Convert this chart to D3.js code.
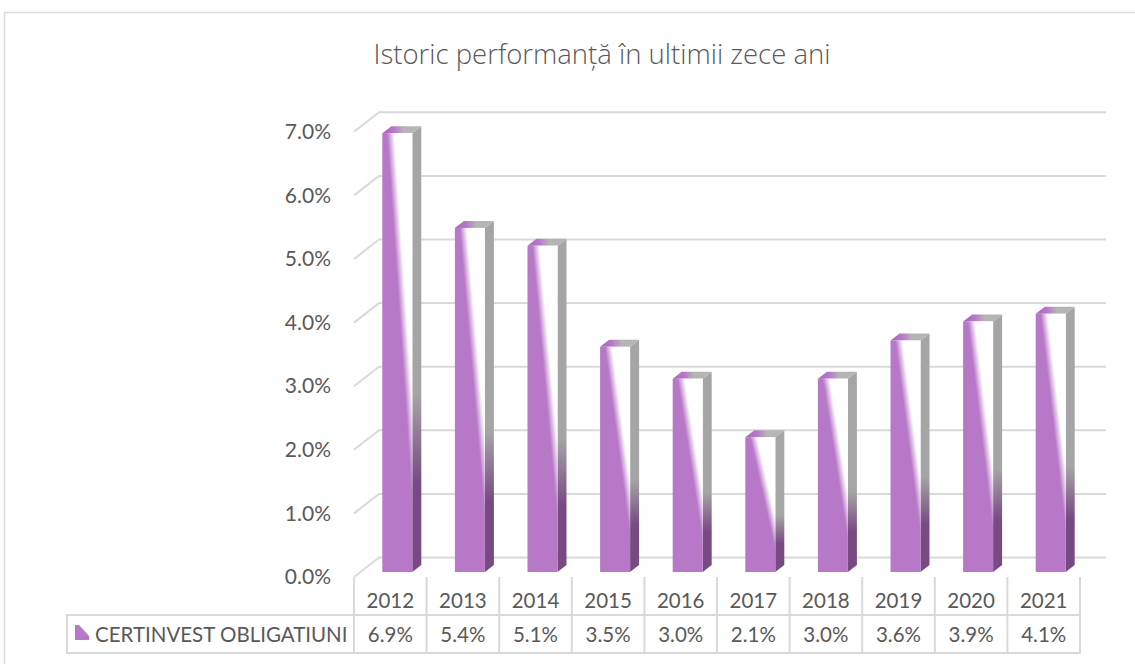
<!DOCTYPE html>
<html>
<head>
<meta charset="utf-8">
<script src="https://cdn.jsdelivr.net/npm/d3@7"></script>
<style>
  body { margin: 0; background: #fff; }
  text { font-family: Lato, "Open Sans", sans-serif; fill: #595959; }
</style>
</head>
<body>
<script>
  var years = ['2012', '2013', '2014', '2015', '2016', '2017', '2018', '2019', '2020', '2021'];
  var values = [6.9, 5.41, 5.13, 3.54, 3.04, 2.12, 3.04, 3.64, 3.94, 4.06];
  var yTicks = [0, 1, 2, 3, 4, 5, 6, 7];
  var seriesName = 'CERTINVEST OBLIGATIUNI';
  var title = 'Istoric performanță în ultimii zece ani';

  var width = 1135;
  var height = 664;
  var svg = d3.select('body').append('svg')
    .attr('width', width)
    .attr('height', height);

  // front plane of the 3d box, and how far back the walls go
  var left = 354, right = 1080, floorY = 577;
  var wallDx = 25, wallDy = -19.5;
  // bar sits a bit behind the front edge
  var barDx = 7, barDy = -5, depthDx = 9, depthDy = -7;

  var xScale = d3.scaleBand()
    .domain(years)
    .range([left, right]);
  var yScale = d3.scaleLinear()
    .domain([0, 7])
    .range([floorY, floorY - 7 * 63.6]);
  var fmt = function(d) { return d.toFixed(1) + '%'; };

  // gradients
  var defs = svg.append('defs');
  var gFront = defs.append('linearGradient').attr('id', 'gFront')
    .attr('x1', 0).attr('y1', 1).attr('x2', 1).attr('y2', 0);
  [[0, '#B878C8'], [0.58, '#B878C8'], [0.7, '#ffffff'], [1, '#ffffff']].forEach(function(s) {
    gFront.append('stop').attr('offset', s[0]).attr('stop-color', s[1]);
  });
  var gSide = defs.append('linearGradient').attr('id', 'gSide')
    .attr('x1', 0).attr('y1', 0).attr('x2', 0).attr('y2', 1);
  [[0, '#A5A5A5'], [0.6, '#A5A5A5'], [0.8, '#774A82'], [1, '#774A82']].forEach(function(s) {
    gSide.append('stop').attr('offset', s[0]).attr('stop-color', s[1]);
  });
  var gTop = defs.append('linearGradient').attr('id', 'gTop')
    .attr('x1', 0).attr('y1', 0).attr('x2', 1).attr('y2', 0);
  [[0, '#A865BA'], [0.3, '#B878C8'], [0.55, '#B5B5B5'], [1, '#B5B5B5']].forEach(function(s) {
    gTop.append('stop').attr('offset', s[0]).attr('stop-color', s[1]);
  });

  // outer border
  svg.append('rect')
    .attr('x', 4.5).attr('y', 12.5)
    .attr('width', 1140).attr('height', 700)
    .attr('fill', 'none')
    .attr('stroke', '#D9D9D9')
    .attr('stroke-width', 1.5);

  svg.append('text')
    .attr('x', 602).attr('y', 64)
    .attr('text-anchor', 'middle')
    .style('font-family', '"Open Sans", Lato, sans-serif')
    .style('font-size', '27.5px')
    .style('font-weight', 300)
    .text(title);

  // gridlines: side wall + back wall
  var grid = svg.append('g')
    .attr('stroke', '#D9D9D9')
    .attr('stroke-width', 2)
    .attr('fill', 'none');
  grid.selectAll('path')
    .data(yTicks)
    .enter().append('path')
    .attr('d', function(d) {
      var y = yScale(d);
      return 'M' + left + ',' + y + 'L' + (left + wallDx) + ',' + (y + wallDy) +
        'L' + (right + wallDx + 1) + ',' + (y + wallDy);
    });

  // y axis labels
  var yAxis = d3.axisLeft(yScale)
    .tickValues(yTicks)
    .tickSize(0)
    .tickPadding(23)
    .tickFormat(fmt);
  var yg = svg.append('g')
    .attr('transform', 'translate(' + left + ',0)')
    .call(yAxis);
  yg.select('.domain').remove();
  yg.selectAll('text')
    .style('font-size', '21px')
    .attr('fill', '#595959');

  // bars
  var data = years.map(function(y, i) { return {year: y, value: values[i]}; });
  var barW = 30;
  var bars = svg.selectAll('g.bar')
    .data(data)
    .enter().append('g')
    .attr('class', 'bar');

  function geo(d) {
    var x0 = xScale(d.year) + (xScale.bandwidth() - barW) / 2 + barDx;
    return {x0: x0, x1: x0 + barW, yt: yScale(d.value) + barDy, yb: yScale(0) + barDy};
  }

  bars.append('path')
    .attr('fill', 'url(#gSide)')
    .attr('d', function(d) {
      var g = geo(d);
      return 'M' + g.x1 + ',' + g.yt + 'L' + (g.x1 + depthDx) + ',' + (g.yt + depthDy) +
        'L' + (g.x1 + depthDx) + ',' + (g.yb + depthDy) + 'L' + g.x1 + ',' + g.yb + 'Z';
    });
  bars.append('path')
    .attr('fill', 'url(#gTop)')
    .attr('d', function(d) {
      var g = geo(d);
      return 'M' + g.x0 + ',' + g.yt + 'L' + (g.x0 + depthDx) + ',' + (g.yt + depthDy) +
        'L' + (g.x1 + depthDx) + ',' + (g.yt + depthDy) + 'L' + g.x1 + ',' + g.yt + 'Z';
    });
  bars.append('rect')
    .attr('fill', 'url(#gFront)')
    .attr('x', function(d) { return geo(d).x0; })
    .attr('y', function(d) { return geo(d).yt; })
    .attr('width', barW)
    .attr('height', function(d) { var g = geo(d); return g.yb - g.yt; });

  // data table
  var rowTop = 615, rowBot = 653, tableLeft = 67;
  var table = svg.append('g')
    .attr('stroke', '#D9D9D9')
    .attr('stroke-width', 2)
    .attr('fill', 'none');
  table.selectAll('line.v')
    .data(years.concat(['end']))
    .enter().append('line')
    .attr('x1', function(d) { return d === 'end' ? right : xScale(d); })
    .attr('x2', function(d) { return d === 'end' ? right : xScale(d); })
    .attr('y1', floorY)
    .attr('y2', rowBot);
  table.append('rect')
    .attr('x', tableLeft).attr('y', rowTop)
    .attr('width', right - tableLeft).attr('height', rowBot - rowTop);

  svg.selectAll('text.year')
    .data(years)
    .enter().append('text')
    .attr('class', 'year')
    .attr('x', function(d) { return xScale(d) + xScale.bandwidth() / 2; })
    .attr('y', 608)
    .attr('text-anchor', 'middle')
    .style('font-size', '20.5px')
    .text(function(d) { return d; });

  svg.selectAll('text.val')
    .data(data)
    .enter().append('text')
    .attr('class', 'val')
    .attr('x', function(d) { return xScale(d.year) + xScale.bandwidth() / 2; })
    .attr('y', 642)
    .attr('text-anchor', 'middle')
    .style('font-size', '20.5px')
    .text(function(d) { return fmt(d.value); });

  // legend key
  svg.append('path')
    .attr('fill', '#B878C8')
    .attr('d', 'M75,625L79,625L89,636L89,640L75,640Z');
  svg.append('text')
    .attr('x', 95).attr('y', 642)
    .style('font-size', '20.5px')
    .text(seriesName);
</script>
</body>
</html>
